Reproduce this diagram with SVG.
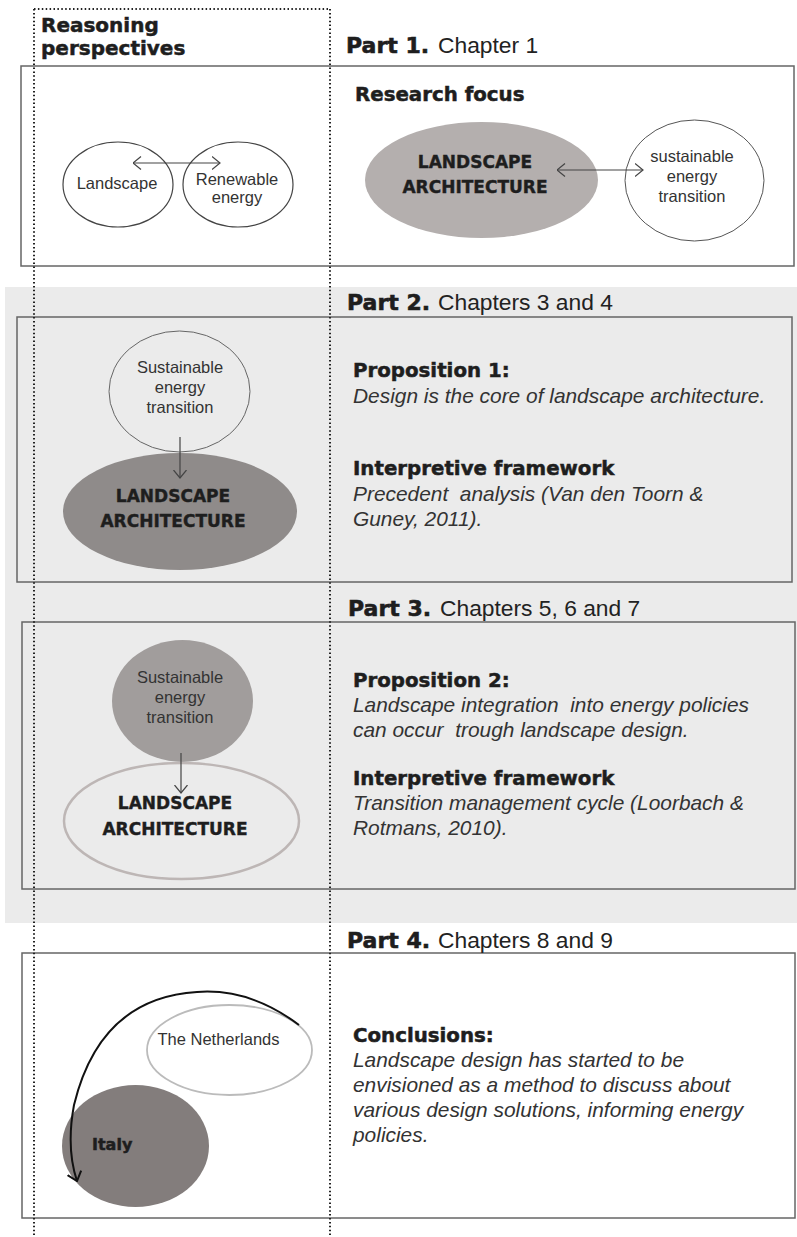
<svg xmlns="http://www.w3.org/2000/svg" width="797" height="1237" viewBox="0 0 797 1237">
<style>
.box{fill:none;stroke:#666;stroke-width:1.5}
.dot{stroke:#222;stroke-width:2;stroke-dasharray:1.5 2.4;fill:none}
.node{font-family:"Liberation Sans",Arial,sans-serif;font-size:16.5px;fill:#333;text-anchor:middle}
.hb{font-family:"DejaVu Sans",sans-serif;font-weight:bold;fill:#1e1e1e;stroke:#1e1e1e;stroke-width:0.5}
.cap{font-family:"DejaVu Sans",sans-serif;font-weight:bold;font-size:17px;fill:#1e1e1e;stroke:#1e1e1e;stroke-width:0.4;text-anchor:middle}
.part{font-family:"DejaVu Sans",sans-serif;font-weight:bold;font-size:22px;fill:#1e1e1e;stroke:#1e1e1e;stroke-width:0.6}
.chap{font-family:"Liberation Sans",Arial,sans-serif;font-size:22.8px;fill:#222}
.sub{font-family:"DejaVu Sans",sans-serif;font-weight:bold;font-size:19.8px;fill:#1e1e1e;stroke:#1e1e1e;stroke-width:0.5}
.it{font-family:"Liberation Sans",Arial,sans-serif;font-style:italic;font-size:20.9px;fill:#333}
.conn{fill:none;stroke:#444;stroke-width:1.2}
</style>
<defs>
<marker id="chev" viewBox="0 0 9 14" refX="8.5" refY="7" markerWidth="9" markerHeight="14" markerUnits="userSpaceOnUse" orient="auto-start-reverse">
<path d="M0.5,0.5 L8.5,7 L0.5,13.5" fill="none" stroke="#444" stroke-width="1.2"/>
</marker>
<marker id="chevB" viewBox="0 0 10 16" refX="9" refY="8" markerWidth="10" markerHeight="16" markerUnits="userSpaceOnUse" orient="auto">
<path d="M0.5,0.8 L9,8 L0.5,15.2" fill="none" stroke="#111" stroke-width="2"/>
</marker>
</defs>
<rect width="797" height="1237" fill="#fff"/>
<rect x="5" y="287" width="792" height="636" fill="#ebebeb"/>

<g id="part1">
<rect class="box" x="21" y="66" width="773" height="200"/>
<text class="part" x="346" y="53">Part 1.</text>
<text class="chap" x="438" y="53">Chapter 1</text>
<text class="sub" x="355" y="101">Research focus</text>
</g>
<g id="part2">
<rect class="box" x="17" y="317" width="775" height="265"/>
<text class="part" x="347" y="310">Part 2.</text>
<text class="chap" x="438" y="310">Chapters 3 and 4</text>
<text class="sub" x="353" y="377">Proposition 1:</text>
<text class="it" x="353" y="403">Design is the core of landscape architecture.</text>
<text class="sub" x="353" y="475">Interpretive framework</text>
<text class="it" x="353" y="501" xml:space="preserve">Precedent  analysis (Van den Toorn &amp;</text>
<text class="it" x="353" y="526">Guney, 2011).</text>
</g>
<g id="part3">
<rect class="box" x="22" y="622" width="773" height="267"/>
<text class="part" x="348" y="616">Part 3.</text>
<text class="chap" x="440" y="616">Chapters 5, 6 and 7</text>
<text class="sub" x="353" y="687">Proposition 2:</text>
<text class="it" x="353" y="712" xml:space="preserve">Landscape integration  into energy policies</text>
<text class="it" x="353" y="737" xml:space="preserve">can occur  trough landscape design.</text>
<text class="sub" x="353" y="785">Interpretive framework</text>
<text class="it" x="353" y="810">Transition management cycle (Loorbach &amp;</text>
<text class="it" x="353" y="835">Rotmans, 2010).</text>
</g>
<g id="part4">
<rect class="box" x="22" y="953" width="773" height="265"/>
<text class="part" x="347" y="948">Part 4.</text>
<text class="chap" x="438" y="948">Chapters 8 and 9</text>
<text class="sub" x="353" y="1042">Conclusions:</text>
<text class="it" x="353" y="1067">Landscape design has started to be</text>
<text class="it" x="353" y="1092">envisioned as a method to discuss about</text>
<text class="it" x="353" y="1117">various design solutions, informing energy</text>
<text class="it" x="353" y="1142">policies.</text>
</g>

<g id="n-landscape">
<ellipse cx="118" cy="184.5" rx="55" ry="42.5" fill="#fff" stroke="#444" stroke-width="1.2"/>
<text class="node" x="117" y="189">Landscape</text>
</g>
<g id="n-renewable">
<ellipse cx="238" cy="184.5" rx="55" ry="42.5" fill="none" stroke="#444" stroke-width="1.2"/>
<text class="node" x="237" y="185">Renewable</text>
<text class="node" x="237" y="203">energy</text>
</g>
<g id="n-la1">
<ellipse cx="481.5" cy="180" rx="116.5" ry="58" fill="#b4afae"/>
<text class="cap" x="475" y="168">LANDSCAPE</text>
<text class="cap" x="475" y="193">ARCHITECTURE</text>
</g>
<g id="n-set1">
<ellipse cx="694.5" cy="180.5" rx="69.5" ry="60.5" fill="#fff" stroke="#555" stroke-width="1"/>
<text class="node" x="692" y="162">sustainable</text>
<text class="node" x="692" y="182">energy</text>
<text class="node" x="692" y="202">transition</text>
</g>
<g id="n-set2">
<ellipse cx="179.5" cy="391.5" rx="70.5" ry="60.5" fill="#ebebeb" stroke="#666" stroke-width="1"/>
<text class="node" x="180" y="373">Sustainable</text>
<text class="node" x="180" y="393">energy</text>
<text class="node" x="180" y="413">transition</text>
</g>
<g id="n-la2">
<ellipse cx="180" cy="511.5" rx="117" ry="58.5" fill="#8f8b8a"/>
<text class="cap" x="173" y="502">LANDSCAPE</text>
<text class="cap" x="173" y="527">ARCHITECTURE</text>
</g>
<g id="n-set3">
<ellipse cx="182.5" cy="701" rx="70.5" ry="61" fill="#a19d9c"/>
<text class="node" x="180" y="683">Sustainable</text>
<text class="node" x="180" y="703">energy</text>
<text class="node" x="180" y="723">transition</text>
</g>
<g id="n-la3">
<ellipse cx="181.5" cy="821" rx="117.5" ry="58" fill="none" stroke="#bdb6b5" stroke-width="2.5"/>
<text class="cap" x="175" y="809">LANDSCAPE</text>
<text class="cap" x="175" y="835">ARCHITECTURE</text>
</g>
<g id="n-italy">
<ellipse cx="135.5" cy="1146" rx="73.5" ry="61" fill="#837d7c"/>
<text class="hb" x="92" y="1150" font-size="16">Italy</text>
</g>
<g id="n-netherlands">
<ellipse cx="229.5" cy="1050" rx="82.5" ry="45" fill="none" stroke="#bbb" stroke-width="1.8"/>
<text class="node" x="218.5" y="1045">The Netherlands</text>
</g>

<g id="connectors">
<line class="conn" x1="133" y1="163" x2="220" y2="163" marker-start="url(#chev)" marker-end="url(#chev)"/>
<line class="conn" x1="557" y1="170" x2="643" y2="170" marker-start="url(#chev)" marker-end="url(#chev)"/>
<line class="conn" x1="180" y1="437" x2="180" y2="478" marker-end="url(#chev)"/>
<line class="conn" x1="181" y1="753" x2="181" y2="793" marker-end="url(#chev)"/>
<path d="M299,1025 Q250,988 197,992 Q100,998 74,1105 Q66,1148 77,1181" fill="none" stroke="#111" stroke-width="2" marker-end="url(#chevB)"/>
</g>

<g id="reasoning">
<text class="hb" x="41" y="32" font-size="20">Reasoning</text>
<text class="hb" x="41" y="55" font-size="20">perspectives</text>
<line class="dot" x1="34" y1="9" x2="330" y2="9"/>
<line class="dot" x1="34" y1="9" x2="34" y2="1237"/>
<line class="dot" x1="330" y1="9" x2="330" y2="1237"/>
</g>
</svg>
